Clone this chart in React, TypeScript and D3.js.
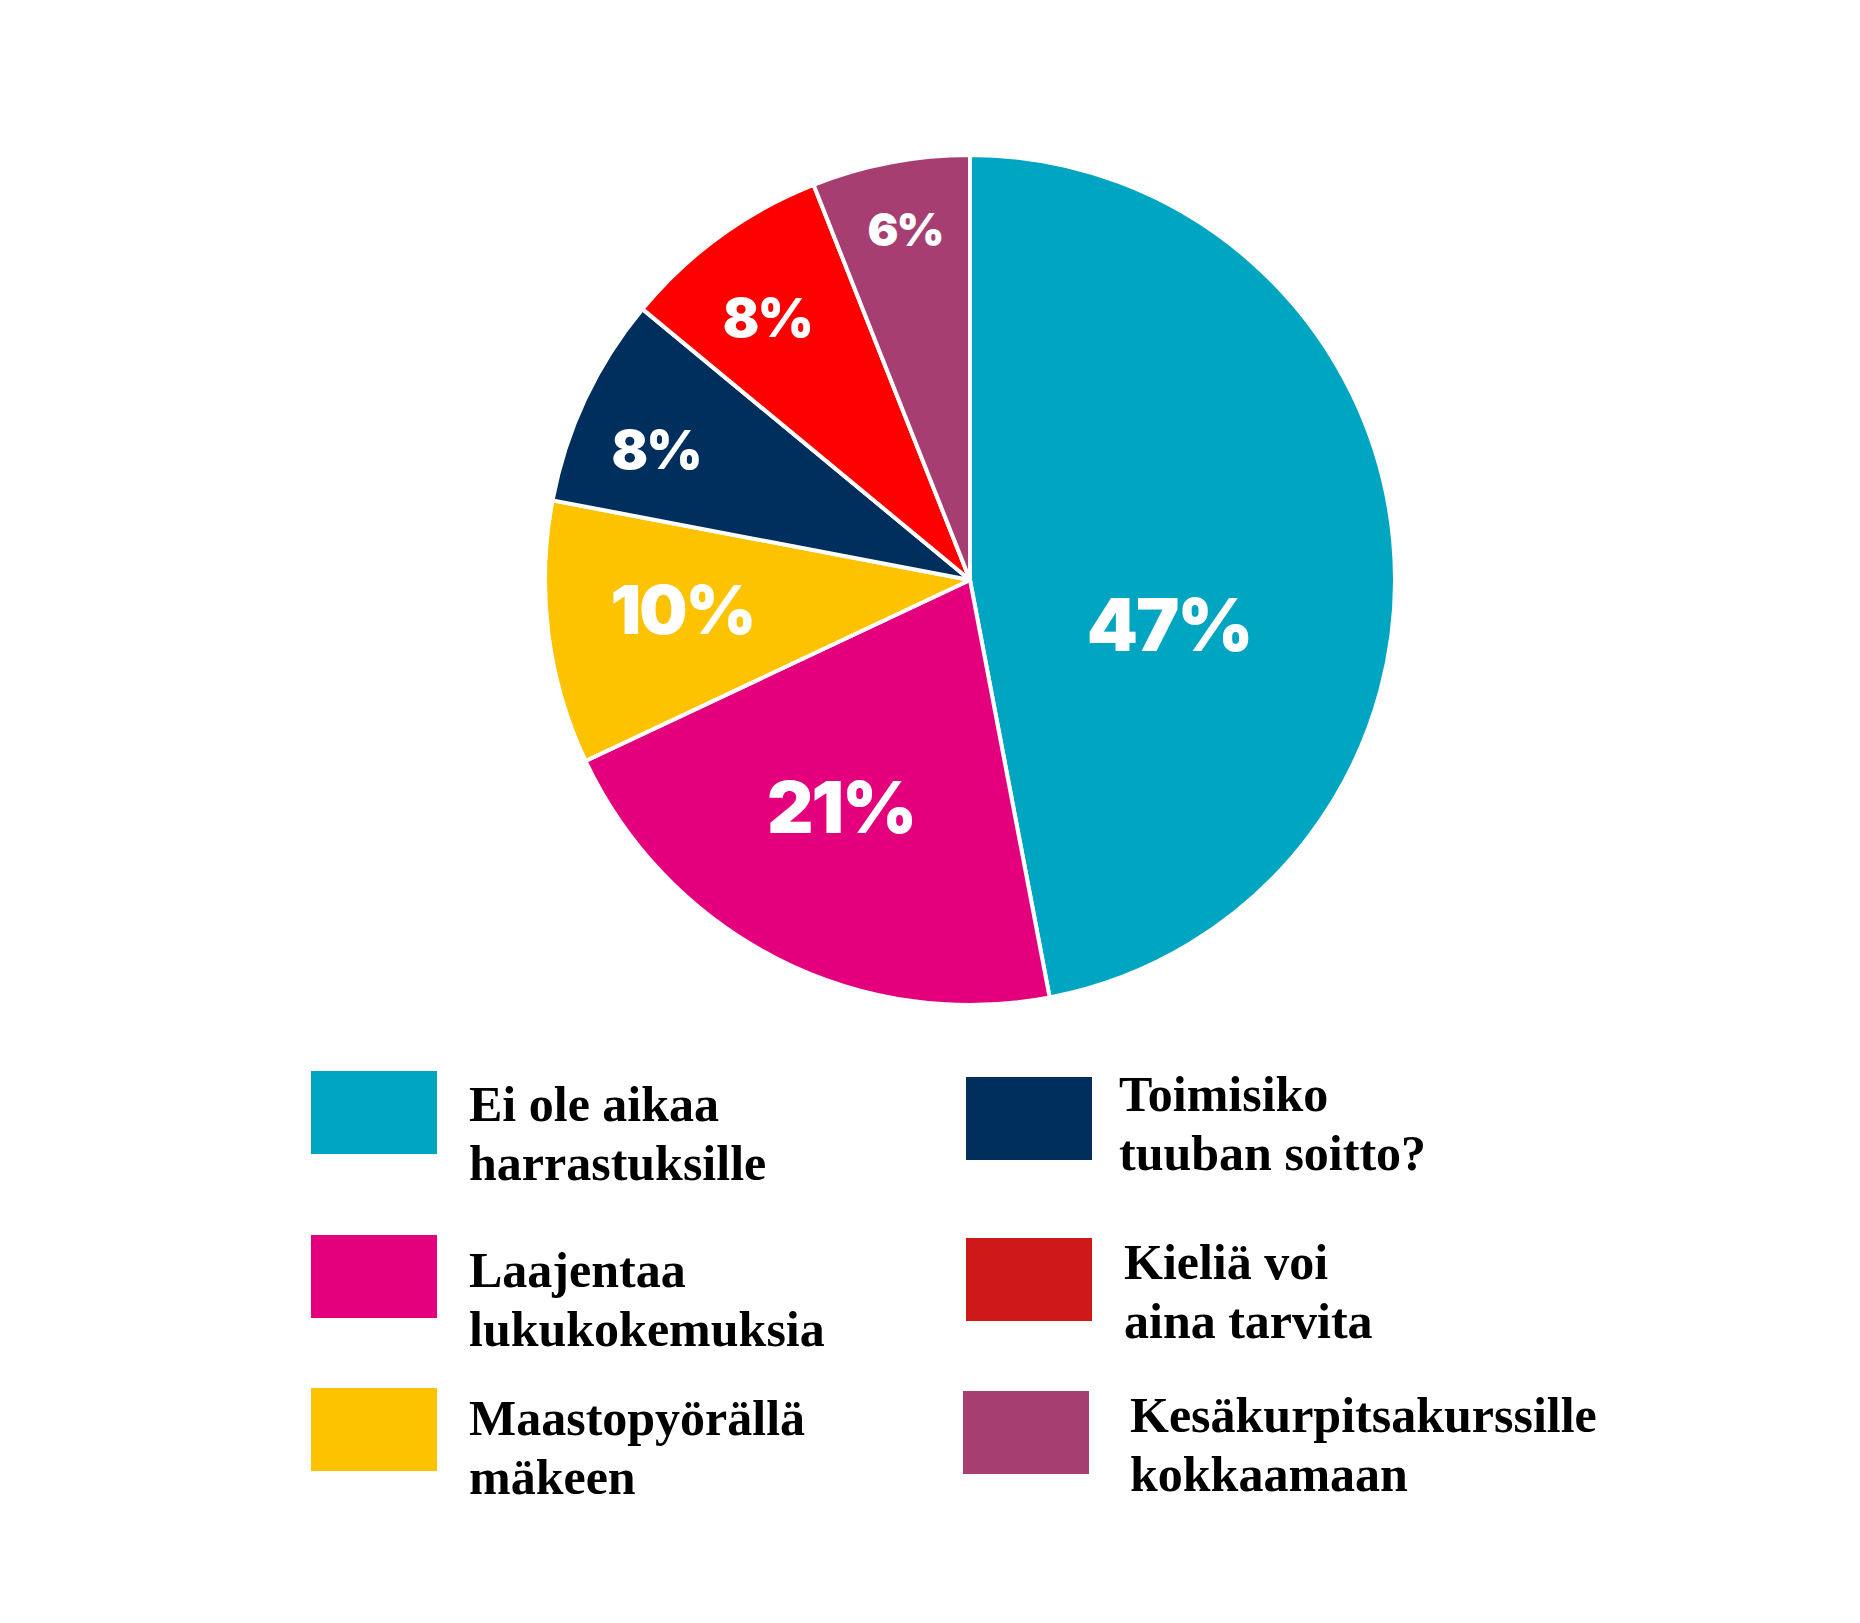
import React from "react";
import * as d3 from "d3";

const categories = [
  "Ei ole aikaa harrastuksille",
  "Laajentaa lukukokemuksia",
  "Maastopyörällä mäkeen",
  "Toimisiko tuuban soitto?",
  "Kieliä voi aina tarvita",
  "Kesäkurpitsakurssille kokkaamaan",
];
const values = [47, 21, 10, 8, 8, 6];
const valueLabels = ["47%", "21%", "10%", "8%", "8%", "6%"];
const legendLines = [
  ["Ei ole aikaa", "harrastuksille"],
  ["Laajentaa", "lukukokemuksia"],
  ["Maastopyörällä", "mäkeen"],
  ["Toimisiko", "tuuban soitto?"],
  ["Kieliä voi", "aina tarvita"],
  ["Kesäkurpitsakurssille", "kokkaamaan"],
];

const sliceColors = ["#00A5C1", "#E4007C", "#FDC300", "#002E5D", "#FF0000", "#A63E72"];
const swatchColors = ["#00A5C1", "#E4007C", "#FDC300", "#002E5D", "#CD1719", "#A63E72"];

// label placement (fraction of radius, angle shift in degrees)
const labelRadiusFrac = [0.48, 0.614, 0.68, 0.8, 0.78, 0.84];
const labelAngleShift = [18, 2.6, 1.5, -2.6, -1.7, 0.3];
const labelFontSize = [73, 72, 68, 54, 54, 46];

// legend layout
const legendSlots = [
  { top: 1071, base: 1121, textX: 469, swatchX: 311 },
  { top: 1235, base: 1287, textX: 469, swatchX: 311 },
  { top: 1388, base: 1435, textX: 469, swatchX: 311 },
  { top: 1077, base: 1111, textX: 1119, swatchX: 966 },
  { top: 1238, base: 1279, textX: 1124, swatchX: 966 },
  { top: 1391, base: 1432, textX: 1130, swatchX: 963 },
];

export default function App() {
  const W = 1860;
  const H = 1623;
  const cx = 970;
  const cy = 580;
  const R = 425;

  const pie = d3.pie<number>().value((d) => d).sort(null);
  const arcs = pie(values);
  const arcGen = d3.arc<d3.PieArcDatum<number>>().innerRadius(0).outerRadius(R);

  return (
    <svg
      width={W}
      height={H}
      viewBox={`0 0 ${W} ${H}`}
      style={{ position: "absolute", left: 0, top: 0, background: "#fff" }}
    >
      <rect x={0} y={0} width={W} height={H} fill="#fff" />
      <g transform={`translate(${cx},${cy})`}>
        {arcs.map((a, i) => (
          <path
            key={categories[i]}
            d={arcGen(a) || ""}
            fill={sliceColors[i]}
            stroke="#fff"
            strokeWidth={4}
            strokeLinejoin="round"
          />
        ))}
        {arcs.map((a, i) => {
          const mid = (a.startAngle + a.endAngle) / 2 + (labelAngleShift[i] * Math.PI) / 180;
          const r = labelRadiusFrac[i] * R;
          const x = r * Math.sin(mid);
          const y = -r * Math.cos(mid);
          return (
            <text
              key={"l" + i}
              x={x}
              y={y}
              textAnchor="middle"
              dominantBaseline="central"
              fill="#fff"
              fontFamily="Inter, Lato, 'DejaVu Sans', sans-serif"
              fontWeight={900}
              fontSize={labelFontSize[i]}
              letterSpacing={-2}
            >
              {valueLabels[i]}
            </text>
          );
        })}
      </g>
      <g>
        {legendSlots.map((s, i) => (
          <g key={"lg" + i}>
            <rect x={s.swatchX} y={s.top} width={126} height={83} fill={swatchColors[i]} />
            {legendLines[i].map((line, j) => (
              <text
                key={j}
                x={s.textX}
                y={s.base + j * 59}
                fontFamily="'Liberation Serif', 'Times New Roman', serif"
                fontWeight={700}
                fontSize={50}
                fill="#000"
              >
                {line}
              </text>
            ))}
          </g>
        ))}
      </g>
    </svg>
  );
}
